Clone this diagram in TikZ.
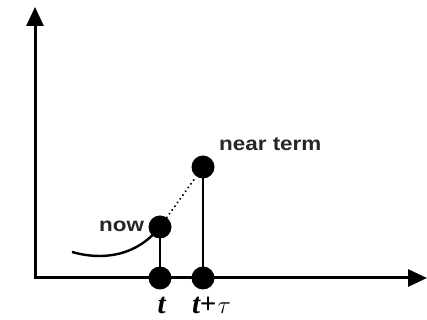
\documentclass[tikz,border=0pt]{standalone}
\usepackage{fontspec}
\setmainfont{Liberation Serif}
\newfontfamily\lab[FakeStretch=1.15]{Liberation Sans}
\usetikzlibrary{arrows.meta}
\begin{document}
\begin{tikzpicture}[x=1pt,y=1pt,
  axis/.style={line width=3pt,-{Triangle[length=19pt,width=17pt]}},
  stem/.style={line width=2.8pt},
  dotnode/.style={circle,fill=black,inner sep=0pt,minimum size=23pt},
  lbl/.style={inner sep=0pt,font=\lab\bfseries\fontsize{19.5}{21}\selectfont,text=black!85},
  tlbl/.style={inner sep=0pt,font=\fontsize{29}{31}\selectfont}]
\useasboundingbox (0,0) rectangle (427,320);
\coordinate (o) at (35,42);
\coordinate (ytop) at (35,313);
\coordinate (xend) at (427,42);
\draw[axis] (o) -- (ytop);
\draw[axis] ([xshift=-1.5pt]o) -- (xend);
\node[dotnode] (tdot) at (160,42) {};
\node[dotnode] (taudot) at (203,42) {};
\node[dotnode] (now) at (160,93) {};
\node[dotnode] (near) at (203,153) {};
\draw[stem] (tdot.center) -- (now.center);
\draw[stem] (taudot.center) -- (near.center);
\draw[line width=2.2pt,line cap=round,dash pattern=on 0.1pt off 4.5pt] (now) -- (near);
\coordinate (cstart) at (72,68);
\draw[line width=2.4pt] (cstart) .. controls (100,60) and (135,62) .. (now.center);
\node[lbl,anchor=base west] (nowlbl) at (99,88) {now};
\node[lbl,anchor=base west] (nearlbl) at (219,169) {near term};
\node[tlbl,anchor=base] (tlabel) at (162,6) {\textbf{\textit{t}}};
\node[tlbl,anchor=base west] (taulabel) at (192,6) {\textbf{\textit{t}}\kern-1pt\textbf{+}\kern1pt$\tau$};
\end{tikzpicture}
\end{document}
